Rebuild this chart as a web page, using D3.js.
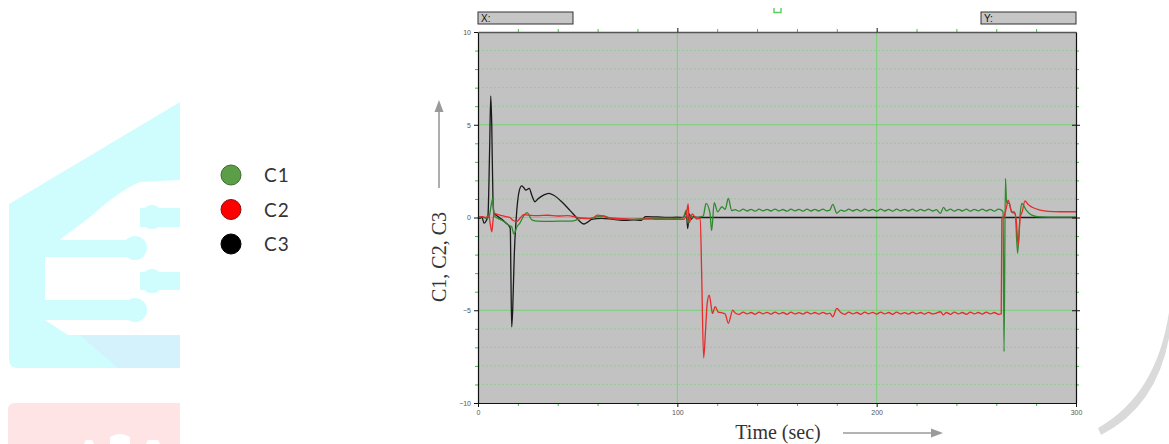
<!DOCTYPE html>
<html>
<head>
<meta charset="utf-8">
<script src="https://cdn.jsdelivr.net/npm/d3@7/dist/d3.min.js"></script>
<style>
  body { margin: 0; background: #fff; }
  svg { display: block; }
</style>
</head>
<body>
<svg id="chart" width="1169" height="444"></svg>
<script>
// ---- data ----
const seriesNames = ["C1", "C2", "C3"];
const seriesColors = ["#2f8a2f", "#e82a2a", "#1a1a1a"];
const legendFill = ["#5c9e48", "#ff0000", "#000000"];
const legendStroke = ["#3b6d2c", "#8a1010", "#000000"];
const xTicks = [0, 100, 200, 300];
const yTicks = [-10, -5, 0, 5, 10];

// C1 (green)
const c1 = [[0,0],[2,0.05],[4,-0.05],[5.5,0],[6.5,0.6],[7.4,1.03],[8,0.1],[10,-0.05],[12,-0.15],[14,-0.3],[16,-0.45],
  [16.9,-0.5],[18,-0.9],[19.5,-0.5],[21,-0.3],[23,0.1],[24.7,0.26],[26,0.05],[27,-0.13],[30,-0.2],[35,-0.21],[40,-0.2],
  [45,-0.2],[48,-0.18],[52,-0.05],[56,-0.06],[60,0.05],[63,0.08],[66,-0.02],[70,-0.1],[75,-0.1],[80,-0.08],[85,-0.05],
  [90,-0.05],[95,-0.03],[100,-0.05],[103,0],[104.5,0.4],[105.3,-0.3],[106.5,0.1],[108,0],[110,0],[112,0.05],[113,0.08],
  [114.4,0.76],[116.4,0.22],[117.2,-0.71],[118.5,0.8],[120.2,0.31],[122.4,0.58],[124,0.44],[125.6,1.03],[127.3,0.37],
  [129,0.42],[131,0.34],[133,0.45],[135,0.35],[137,0.44],[139,0.34],[141,0.45],[143,0.36],[145,0.44],[147,0.35],[149,0.45],
  [151,0.35],[153,0.43],[155,0.34],[157,0.45],[159,0.36],[161,0.44],[163,0.34],[165,0.45],[167,0.35],[169,0.44],[171,0.35],
  [173,0.45],[175,0.36],[176.5,0.4],[178,0.71],[180,0.23],[182,0.4],[184,0.34],[186,0.45],[188,0.35],[190,0.44],[192,0.34],
  [194,0.45],[196,0.36],[198,0.44],[200,0.34],[202,0.45],[204,0.35],[206,0.44],[208,0.34],[210,0.45],[212,0.36],[214,0.44],
  [216,0.35],[218,0.45],[220,0.34],[222,0.44],[224,0.36],[226,0.45],[228,0.35],[230,0.42],[232,0.22],[233.5,0.55],[235,0.36],
  [237,0.45],[239,0.34],[241,0.44],[243,0.35],[245,0.45],[247,0.34],[249,0.44],[251,0.36],[253,0.45],[255,0.35],[257,0.44],
  [259,0.34],[261,0.45],[262.6,0.4],[263.4,0.3],[263.9,-7.23],[264.6,2.11],[265.2,0.8],[266.5,0.76],[267.7,0.3],[269.5,0.2],
  [270.7,-1.93],[272,0.22],[272.8,0.76],[275,0.4],[277.8,0.13],[282,0.03],[290,0.02],[300,0.02]];

// C2 (red)
const c2 = [[0,0.02],[2,0.05],[4,0],[5.5,0.1],[6.2,-0.4],[6.9,-0.77],[7.5,-0.2],[8,0.22],[10,0.15],[12,0.1],[14,0.05],
  [16,0],[17.5,-0.15],[19.4,-0.22],[21,-0.05],[23,0.15],[25,0.13],[30,0.1],[35,0.12],[40,0.08],[45,0.1],[50,0],[55,-0.05],
  [58,0],[60,0.13],[62,0.1],[65,0],[70,-0.05],[75,-0.08],[80,-0.1],[85,-0.08],[90,-0.1],[95,-0.1],[100,-0.1],[103,-0.1],
  [104.5,0.1],[105.4,0.73],[106,-0.28],[107.5,0.19],[109.7,-0.08],[111.5,-0.05],[112.2,-3],[113.2,-7.57],[114.2,-6],
  [115,-4.6],[116,-4.18],[117,-4.8],[117.6,-5.17],[119,-4.8],[120.5,-5.1],[122,-5.13],[124,-5.2],[125.6,-5.7],[127.8,-4.99],
  [129,-5.15],[131,-5.22],[133,-5.1],[135,-5.2],[137,-5.12],[139,-5.22],[141,-5.1],[143,-5.19],[145,-5.11],[147,-5.21],
  [149,-5.1],[151,-5.2],[153,-5.12],[155,-5.22],[157,-5.1],[159,-5.2],[161,-5.13],[163,-5.21],[165,-5.1],[167,-5.2],
  [169,-5.12],[171,-5.21],[173,-5.11],[175,-5.2],[176.5,-5.15],[178,-5.35],[180,-4.9],[182,-5.12],[184,-5.22],[186,-5.1],
  [188,-5.2],[190,-5.12],[192,-5.22],[194,-5.1],[196,-5.19],[198,-5.11],[200,-5.21],[202,-5.1],[204,-5.2],[206,-5.12],
  [208,-5.22],[210,-5.1],[212,-5.2],[214,-5.13],[216,-5.21],[218,-5.1],[220,-5.2],[222,-5.12],[224,-5.21],[226,-5.11],
  [228,-5.2],[230,-5.15],[232,-5.08],[233.5,-5.25],[235,-5.12],[237,-5.22],[239,-5.1],[241,-5.2],[243,-5.12],[245,-5.22],
  [247,-5.1],[249,-5.2],[251,-5.12],[253,-5.21],[255,-5.1],[257,-5.2],[259,-5.12],[261,-5.22],[262.5,-5.2],[262.8,-0.05],
  [264,0.1],[265,0.5],[266,0.94],[267.7,0.31],[269,0.3],[270,-0.13],[271,-1.5],[272,0],[273,0.3],[274.4,0.9],[276,0.7],
  [278,0.55],[282,0.4],[286,0.33],[292,0.31],[300,0.31]];

// C3 (black)
const c3 = [[0,0],[1,-0.05],[2,0.02],[3,-0.3],[4,-0.2],[5,0.1],[5.8,3.5],[6.4,6.55],[6.9,5],[7.5,1],[8,0.25],[10,0.05],
  [12,-0.1],[14,-0.3],[15.5,-0.45],[16.2,-0.6],[16.5,-3],[16.9,-5.9],[17.4,-5],[18.2,-2],[19.2,0],[20.6,1.4],[21.9,1.7],
  [23,1.6],[24,1.48],[25.7,1.57],[27,1.2],[28.6,0.85],[30,1],[32,1.15],[35.6,1.3],[38,1.2],[42,0.85],[46,0.4],[49,0.04],
  [51,-0.2],[53.2,-0.35],[55,-0.25],[57,-0.1],[62,-0.05],[68,-0.1],[74,-0.15],[78,-0.12],[82,-0.15],[84,0.05],[90,0.03],
  [95,0],[100,0.02],[103,0],[104.5,0.3],[105.2,-0.6],[106,0.2],[107,-0.1],[108,0.05],[110,0],[300,0]];

const seriesData = [c1, c2, c3];

// ---- layout ----
const svg = d3.select("#chart");
const plot = {left: 478, right: 1076, top: 32, bottom: 403};
const x = d3.scaleLinear().domain([0, 300]).range([plot.left, plot.right]);
const y = d3.scaleLinear().domain([-10, 10]).range([plot.bottom, plot.top]);
const gridGreen = "#74d374";

// background decoration (faded logo shapes)
const deco = svg.append("g").attr("class", "deco");
deco.append("path")
  .attr("d", "M9,204 L180,102 L180,368 L18,368 Q9,368 9,359 Z")
  .attr("fill", "#cffdfd");
deco.append("path")
  .attr("d", "M80,335 L180,335 L180,368 L118,368 Z")
  .attr("fill", "#d3f2fb");
deco.append("path")
  .attr("d", "M180,180 L140,182 Q120,190 90,217 L62,238 L45,255 L45,320 L68,335 L180,335 Z")
  .attr("fill", "#fff");
[[140, 208, 227, 152, 217], [45, 240, 257, 135, 248], [140, 272, 290, 152, 281], [45, 300, 320, 135, 310]].forEach(function(b) {
  deco.append("rect").attr("x", b[0]).attr("y", b[1])
    .attr("width", (b[0] === 140 ? 180 : b[3]) - b[0]).attr("height", b[2] - b[1])
    .attr("fill", "#cffdfd");
  deco.append("circle").attr("cx", b[3]).attr("cy", b[4]).attr("r", 12).attr("fill", "#cffdfd");
});
deco.append("path")
  .attr("d", "M8,410 Q8,403 15,403 L180,403 L180,444 L8,444 Z")
  .attr("fill", "#fee4e4");
deco.append("path").attr("d", "M110,444 L110,437 Q120,431 130,437 L130,444 Z").attr("fill", "#fff");
deco.append("path").attr("d", "M84,444 L86,440 L92,440 L94,444 Z").attr("fill", "#fff");
deco.append("path").attr("d", "M146,444 L148,440 L158,440 L160,444 Z").attr("fill", "#fff");
deco.append("path")
  .attr("d", "M1171,296 Q1162,392 1098,428 L1101,435 Q1170,400 1173,300 Z")
  .attr("fill", "#dadada");

// legend
const legend = svg.append("g").attr("class", "legend");
seriesNames.forEach(function(name, i) {
  const cy = 175 + i * 34.5;
  legend.append("circle")
    .attr("cx", 231).attr("cy", cy).attr("r", 10)
    .attr("fill", legendFill[i])
    .attr("stroke", legendStroke[i]).attr("stroke-width", 1);
  legend.append("text")
    .attr("x", 264).attr("y", cy + 7)
    .style("font-family", "Lato, 'Open Sans', sans-serif")
    .style("font-size", "19px")
    .style("letter-spacing", "1px")
    .style("fill", "#333")
    .text(name);
});

// plot background
svg.append("rect")
  .attr("x", plot.left).attr("y", plot.top)
  .attr("width", plot.right - plot.left).attr("height", plot.bottom - plot.top)
  .attr("fill", "#c2c2c2");

// minor dotted horizontal grid, every 1 unit
const grid = svg.append("g").attr("class", "grid");
grid.selectAll(".minorY")
  .data(d3.range(-9, 10).filter(function(v) { return v % 5 !== 0; }))
  .join("line")
  .attr("x1", plot.left).attr("x2", plot.right)
  .attr("y1", d => y(d)).attr("y2", d => y(d))
  .attr("stroke", gridGreen).attr("stroke-width", 0.8)
  .attr("stroke-dasharray", "2,2").attr("opacity", 0.7);
// major solid grid
grid.selectAll(".majorY")
  .data([-5, 0, 5])
  .join("line")
  .attr("x1", plot.left).attr("x2", plot.right)
  .attr("y1", d => y(d)).attr("y2", d => y(d))
  .attr("stroke", gridGreen).attr("stroke-width", 1);
grid.selectAll(".majorX")
  .data([100, 200])
  .join("line")
  .attr("x1", d => x(d)).attr("x2", d => x(d))
  .attr("y1", plot.top).attr("y2", plot.bottom)
  .attr("stroke", gridGreen).attr("stroke-width", 1);

// traces
const line = d3.line()
  .x(d => x(d[0]))
  .y(d => y(d[1]))
  .curve(d3.curveMonotoneX);
const traces = svg.append("g").attr("class", "traces");
[2, 0, 1].forEach(function(i) {
  traces.append("path")
    .datum(seriesData[i])
    .attr("d", line)
    .attr("fill", "none")
    .attr("stroke", seriesColors[i])
    .attr("stroke-width", 1.3)
    .attr("stroke-linejoin", "round");
});

// axes
const minorX = d3.range(0, 301, 20).filter(v => v % 100 !== 0);
const minorY = d3.range(-10, 11, 1).filter(v => v % 5 !== 0);

function styleAxis(g, labels) {
  g.select(".domain").attr("stroke", "#111").attr("stroke-width", 1.2);
  g.selectAll(".tick line").attr("stroke", "#111");
  g.selectAll(".tick text")
    .style("font-family", "Arial, 'Liberation Sans', sans-serif")
    .style("font-size", "7px")
    .style("fill", labels ? "#555" : "none");
}
function styleMinor(g) {
  g.select(".domain").remove();
  g.selectAll(".tick line").attr("stroke", "#39c539");
  g.selectAll(".tick text").remove();
}

// left
svg.append("g").attr("transform", "translate(" + plot.left + ",0)")
  .call(d3.axisLeft(y).tickValues(minorY).tickSize(3)).call(styleMinor);
svg.append("g").attr("transform", "translate(" + plot.left + ",0)")
  .call(d3.axisLeft(y).tickValues(yTicks).tickSize(4).tickPadding(3).tickSizeOuter(0))
  .call(g => styleAxis(g, true));
// bottom
svg.append("g").attr("transform", "translate(0," + plot.bottom + ")")
  .call(d3.axisBottom(x).tickValues(minorX).tickSize(3)).call(styleMinor);
svg.append("g").attr("transform", "translate(0," + plot.bottom + ")")
  .call(d3.axisBottom(x).tickValues(xTicks).tickSize(4).tickPadding(3).tickSizeOuter(0))
  .call(g => styleAxis(g, true));
// top
svg.append("g").attr("transform", "translate(0," + plot.top + ")")
  .call(d3.axisTop(x).tickValues(minorX).tickSize(3)).call(styleMinor);
svg.append("g").attr("transform", "translate(0," + plot.top + ")")
  .call(d3.axisTop(x).tickValues([100, 200]).tickSize(4).tickSizeOuter(0))
  .call(g => styleAxis(g, false))
  .call(g => g.select(".domain").attr("stroke", "#555").attr("stroke-width", 1.6));
// right
svg.append("g").attr("transform", "translate(" + plot.right + ",0)")
  .call(d3.axisRight(y).tickValues(minorY).tickSize(3)).call(styleMinor);
svg.append("g").attr("transform", "translate(" + plot.right + ",0)")
  .call(d3.axisRight(y).tickValues([-5, 0, 5]).tickSize(4).tickSizeOuter(0))
  .call(g => styleAxis(g, false))
  .call(g => g.selectAll(".tick line").attr("x1", -4));

// cursor readout boxes
[["X:", 478], ["Y:", 981]].forEach(function(b) {
  svg.append("rect")
    .attr("x", b[1]).attr("y", 12).attr("width", 95).attr("height", 12)
    .attr("fill", "#c6c6c6").attr("stroke", "#333").attr("stroke-width", 1);
  svg.append("text")
    .attr("x", b[1] + 3).attr("y", 22)
    .style("font-family", "Arial, 'Liberation Sans', sans-serif")
    .style("font-size", "10px")
    .style("fill", "#111")
    .text(b[0]);
});
svg.append("path")
  .attr("d", "M774,8 V12.5 H781 V8")
  .attr("fill", "none").attr("stroke", "#5ccc5c").attr("stroke-width", 1.4);

// axis titles
const titleFont = "'Liberation Serif', 'Times New Roman', serif";
svg.append("text")
  .attr("transform", "translate(446,257) rotate(-90)")
  .attr("text-anchor", "middle")
  .style("font-family", titleFont)
  .style("font-size", "20px")
  .style("fill", "#333")
  .text("C1, C2, C3");
svg.append("text")
  .attr("x", 778).attr("y", 439)
  .attr("text-anchor", "middle")
  .style("font-family", titleFont)
  .style("font-size", "20px")
  .style("fill", "#333")
  .text("Time (sec)");

// arrows
const arrows = svg.append("g").attr("fill", "#9a9a9a").attr("stroke", "#9a9a9a");
arrows.append("line").attr("x1", 439).attr("y1", 188).attr("x2", 439).attr("y2", 110).attr("stroke-width", 1.6);
arrows.append("path").attr("d", "M439,100 L434.5,112 L443.5,112 Z").attr("stroke", "none");
arrows.append("line").attr("x1", 843).attr("y1", 433).attr("x2", 932).attr("y2", 433).attr("stroke-width", 1.6);
arrows.append("path").attr("d", "M943,433 L931,428.5 L931,437.5 Z").attr("stroke", "none");
</script>
</body>
</html>
